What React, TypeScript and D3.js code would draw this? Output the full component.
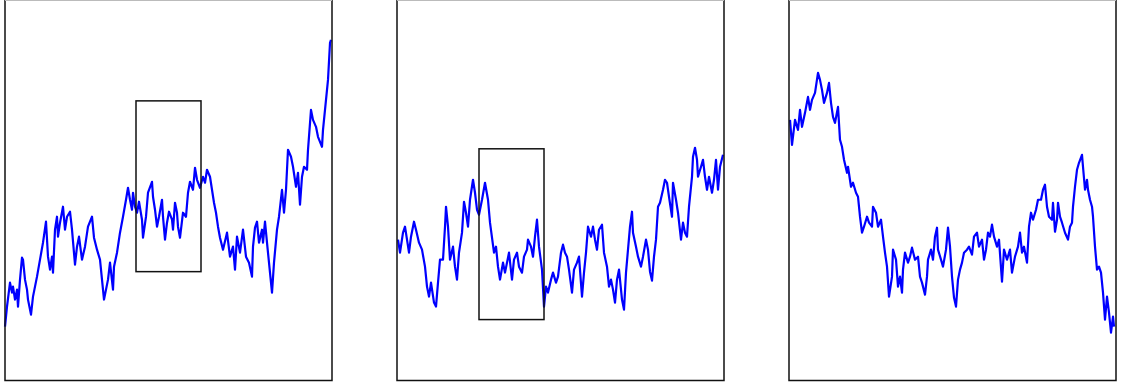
import React, { useEffect, useRef } from 'react';
import * as d3 from 'd3';

// each series: [t, value] (t along the panel, value above the bottom)
const walkFull: [number, number][] = [
  [0,54],[2,74],[5,98],[7,88],[8,94],[10,81],[12,91],[13,74],[15,101],[17,123],[18,121],[20,101],[22,91],[23,81],[26,66],[28,84],[32,104],[35,121],[38,138],[41,159],[43,124],[45,111],[47,124],[48,108],[50,151],[52,164],[53,144],[55,158],[58,174],[60,151],[62,164],[65,169],[67,151],[70,116],[72,134],[74,144],[77,121],[80,134],[83,154],[87,164],[89,143],[92,131],[95,121],[97,101],[99,81],[101,91],[103,101],[105,118],[108,91],[109,114],[112,128],[115,148],[118,164],[121,181],[123,193],[125,181],[127,171],[128,188],[130,174],[132,168],[134,179],[137,161],[138,143],[141,164],[143,188],[147,199],[148,184],[150,171],[152,154],[154,164],[157,181],[158,164],[160,141],[162,158],[164,169],[167,161],[168,151],[170,178],[172,168],[173,154],[175,143],[178,168],[181,164],[183,188],[185,199],[188,191],[190,213],[192,201],[195,193],[198,204],[200,198],[202,211],[205,204],[207,191],[209,178],[211,168],[213,154],[215,143],[218,131],[222,148],[225,124],[228,134],[230,111],[232,144],[235,128],[238,151],[241,124],[244,118],[247,104],[248,134],[250,153],[252,159],[254,138],[257,151],[258,138],[260,159],[262,138],[264,118],[267,88],[269,118],[272,151],[274,164],[277,191],[279,168],[281,191],[283,231],[286,224],[288,214],[291,194],[293,208],[295,176],[297,204],[299,214],[302,211],[303,231],[306,271],[308,261],[311,254],[313,244],[317,234],[318,251],[320,271],[322,291],[323,301],[325,338],[326,341]
];

const walkZoom1: [number, number][] = [
  [1,141],[3,128],[6,148],[8,154],[10,141],[12,128],[14,144],[17,159],[19,151],[22,138],[25,131],[28,114],[30,94],[32,84],[34,98],[37,78],[39,74],[41,98],[43,121],[46,121],[48,154],[49,174],[51,154],[53,121],[56,134],[58,114],[60,101],[62,128],[65,148],[67,179],[69,168],[71,154],[73,181],[76,201],[78,188],[80,171],[82,166],[85,181],[88,198],[91,181],[93,158],[97,128],[99,134],[101,114],[103,101],[106,118],[108,108],[110,118],[112,128],[115,101],[117,121],[120,128],[122,114],[125,108],[127,124],[130,131],[131,141],[134,134],[136,124],[138,144],[140,161],[142,134],[145,111],[147,74],[149,94],[151,88],[154,101],[156,108],[159,98],[161,104],[164,128],[166,136],[168,128],[170,124],[172,111],[175,88],[177,111],[180,118],[182,124],[185,84],[187,108],[189,128],[191,154],[194,144],[196,154],[198,141],[200,131],[202,151],[205,156],[207,128],[210,114],[212,94],[214,101],[216,91],[218,78],[220,101],[222,111],[225,81],[227,71],[229,108],[231,131],[233,154],[235,169],[236,148],[239,134],[241,124],[244,114],[246,124],[249,141],[251,131],[253,109],[255,100],[257,124],[259,141],[261,174],[263,178],[266,191],[268,201],[270,198],[272,184],[275,164],[276,198],[279,181],[281,168],[284,141],[286,158],[288,148],[290,144],[292,174],[295,204],[296,224],[298,233],[300,221],[301,204],[304,214],[306,221],[308,204],[310,191],[312,204],[315,188],[317,201],[319,221],[321,191],[323,214],[326,226]
];

const walkZoom2: [number, number][] = [
  [1,261],[3,236],[6,261],[9,251],[11,271],[13,254],[16,268],[19,284],[21,271],[23,281],[26,288],[29,308],[31,301],[33,291],[35,278],[38,288],[40,298],[42,278],[44,264],[46,258],[49,274],[51,241],[53,234],[55,221],[58,208],[59,214],[62,194],[64,198],[67,188],[69,184],[71,164],[73,148],[75,154],[78,164],[80,158],[83,154],[84,174],[87,168],[89,154],[92,161],[94,144],[96,128],[98,114],[100,84],[103,104],[104,131],[107,121],[109,94],[111,104],[113,88],[114,111],[116,128],[119,118],[121,124],[123,133],[126,121],[129,124],[131,104],[133,98],[136,86],[138,104],[139,121],[142,131],[144,121],[146,144],[148,153],[149,131],[152,121],[154,114],[157,131],[159,153],[161,134],[163,104],[165,83],[167,74],[169,101],[171,111],[173,118],[175,128],[178,131],[180,134],[183,126],[185,144],[188,148],[190,134],[193,141],[195,121],[197,131],[199,148],[201,144],[203,156],[205,144],[208,134],[210,141],[213,99],[215,131],[218,121],[221,131],[223,108],[226,124],[229,134],[231,148],[233,128],[235,134],[238,118],[240,154],[242,168],[244,161],[247,171],[249,181],[252,181],[254,191],[256,196],[258,174],[260,164],[263,161],[264,178],[266,149],[268,161],[269,178],[271,164],[273,158],[276,148],[279,141],[281,154],[283,158],[284,174],[286,194],[288,211],[290,218],[293,226],[294,214],[296,191],[298,201],[299,191],[301,181],[303,174],[304,164],[306,134],[308,111],[310,114],[312,108],[314,88],[316,61],[318,84],[320,68],[322,48],[324,64],[325,54]
];

// zoom windows drawn on the first two panels: [t0, t1, v0, v1]
const box1 = [131, 196, 109, 280];
const box2 = [82, 147, 61, 232];

const panelLefts = [5, 397, 789];
const panelW = 327;
const panelH = 380.5;

export default function App() {
  const svgRef = useRef<SVGSVGElement>(null);

  useEffect(() => {
    const svg = d3.select(svgRef.current);
    svg.selectAll('*').remove();

    const x = d3.scaleLinear().domain([0, 327]).range([0, panelW]);
    const y = d3.scaleLinear().domain([0, 381]).range([panelH, 0]);

    const line = d3.line<[number, number]>()
      .x(d => x(d[0]))
      .y(d => y(d[1]));

    const series = [walkFull, walkZoom1, walkZoom2];
    const boxes = [box1, box2, null];

    series.forEach((data, i) => {
      const g = svg.append('g').attr('transform', `translate(${panelLefts[i]},0)`);

      g.append('path')
        .datum(data)
        .attr('d', line)
        .attr('fill', 'none')
        .attr('stroke', '#0000ff')
        .attr('stroke-width', 2.2)
        .attr('stroke-linejoin', 'round');

      const b = boxes[i];
      if (b) {
        g.append('rect')
          .attr('x', x(b[0]))
          .attr('y', y(b[3]))
          .attr('width', x(b[1]) - x(b[0]))
          .attr('height', y(b[2]) - y(b[3]))
          .attr('fill', 'none')
          .attr('stroke', '#111')
          .attr('stroke-width', 1.5);
      }

      // frame: top edge sits at the very top of the page, so it shows only faintly
      g.append('path')
        .attr('d', `M0,0V${panelH}H${panelW}V0`)
        .attr('fill', 'none')
        .attr('stroke', '#111')
        .attr('stroke-width', 1.5);
      g.append('line')
        .attr('x1', 0).attr('x2', panelW)
        .attr('y1', 0.5).attr('y2', 0.5)
        .attr('stroke', '#bbb')
        .attr('stroke-width', 1);
    });
  }, []);

  return (
    <svg
      ref={svgRef}
      width={1122}
      height={387}
      style={{ position: 'absolute', left: 0, top: 0, display: 'block', background: '#fff' }}
    />
  );
}
